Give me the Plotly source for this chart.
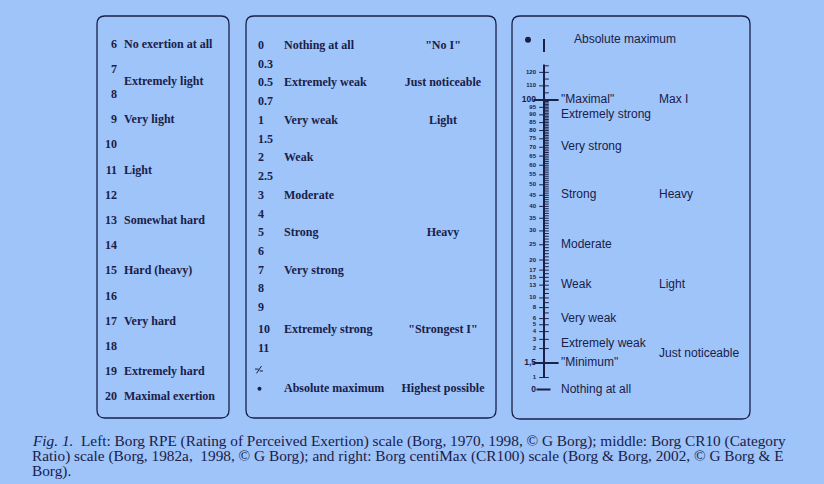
import numpy as np
import plotly.graph_objects as go

W, H = 824, 484
BG = "#9ec4fa"
INK = "#1a2048"
SERIF = "Liberation Serif"
SANS = "Liberation Sans"

# ---------------- data ----------------
# Borg RPE scale
rpe_values = list(range(6, 21))
rpe_label_values = [6, 7.5, 9, 11, 13, 15, 17, 19, 20]
rpe_label_texts = ["No exertion at all", "Extremely light", "Very light", "Light",
                   "Somewhat hard", "Hard (heavy)", "Very hard", "Extremely hard",
                   "Maximal exertion"]

# Borg CR10 scale
cr10_numbers = ["0", "0.3", "0.5", "0.7", "1", "1.5", "2", "2.5", "3", "4",
                "5", "6", "7", "8", "9", "10", "11"]
cr10_verbal_keys = ["0", "0.5", "1", "2", "3", "5", "7", "10", "max"]
cr10_verbal_texts = ["Nothing at all", "Extremely weak", "Very weak", "Weak", "Moderate",
                     "Strong", "Very strong", "Extremely strong", "Absolute maximum"]
cr10_anchor_keys = ["0", "0.5", "1", "5", "10", "max"]
cr10_anchor_texts = ['"No I"', "Just noticeable", "Light", "Heavy", '"Strongest I"',
                     "Highest possible"]

# Borg centiMax (CR100) scale
cr100_tick_values = [0, 1, 1.5, 2, 3, 4, 5, 6, 8, 10, 13, 15, 17, 20, 25, 30, 35, 40, 45,
                     50, 55, 60, 65, 70, 75, 80, 85, 90, 95, 100, 110, 120]
cr100_tick_labels = ["0", "1", "1,5", "2", "3", "4", "5", "6", "8", "10", "13", "15", "17",
                     "20", "25", "30", "35", "40", "45", "50", "55", "60", "65", "70", "75",
                     "80", "85", "90", "95", "100", "110", "120"]
cr100_major_values = [1.5, 100]
cr100_minor_values = list(range(1, 101)) + [105, 110, 115, 120, 125]
cr100_top = 125
cr100_verbal_values = [100, 90, 70, 45, 25, 13, 6, 2.5, 1.5, 0]
cr100_verbal_texts = ['"Maximal"', "Extremely strong", "Very strong", "Strong", "Moderate",
                      "Weak", "Very weak", "Extremely weak", '"Minimum"', "Nothing at all"]
cr100_anchor_values = [100, 45, 13, 1.8]
cr100_anchor_texts = ["Max I", "Heavy", "Light", "Just noticeable"]

caption_lines = [
    "<i>Fig. 1.</i>  Left: Borg RPE (Rating of Perceived Exertion) scale (Borg, 1970, 1998, \u00a9 G Borg); middle: Borg CR10 (Category",
    "Ratio) scale (Borg, 1982a,  1998, \u00a9 G Borg); and right: Borg centiMax (CR100) scale (Borg &amp; Borg, 2002, \u00a9 G Borg &amp; E",
    "Borg).",
]


# ---------------- scales ----------------
def cr100_t(v):
    v = np.asarray(v, dtype=float)
    return np.where(v >= 2, np.sqrt(np.maximum(v, 0)),
                    np.where(v >= 1, v - (2 - np.sqrt(2)), v * (np.sqrt(2) - 1)))


cr10_rows = cr10_numbers + ["break", "max"]


def cr10_row(key):
    i = cr10_rows.index(key)
    return i + (0.18 if i >= 15 else 0) + (0.12 if i >= 17 else 0)


def rng_down(p0, v0, px_per_unit):
    a = v0 - p0 / px_per_unit
    return [a + H / px_per_unit, a]


def rng_up(p0, v0, px_per_unit):
    top = v0 + p0 / px_per_unit
    return [top - H / px_per_unit, top]


fig = go.Figure()


def text_trace(x, y, texts, yaxis, pos, family, size, weight="normal"):
    fig.add_trace(go.Scatter(
        x=[x] * len(texts), y=y, text=texts, mode="text", textposition=pos,
        textfont=dict(family=family, size=size, color=INK, weight=weight),
        yaxis=yaxis, hoverinfo="skip", showlegend=False, cliponaxis=False))


# ---- RPE panel (yaxis y) ----
text_trace(117, rpe_values, [str(v) for v in rpe_values], "y", "middle left", SERIF, 12, "bold")
text_trace(124, rpe_label_values, rpe_label_texts, "y", "middle right", SERIF, 12, "bold")

# ---- CR10 panel (yaxis y2) ----
text_trace(258, [cr10_row(k) for k in cr10_numbers], cr10_numbers, "y2", "middle right",
           SERIF, 12, "bold")
text_trace(284, [cr10_row(k) for k in cr10_verbal_keys], cr10_verbal_texts, "y2",
           "middle right", SERIF, 12, "bold")
text_trace(443, [cr10_row(k) for k in cr10_anchor_keys], cr10_anchor_texts, "y2",
           "middle center", SERIF, 12, "bold")
fig.add_trace(go.Scatter(x=[259.5], y=[cr10_row("max")], mode="markers",
                         marker=dict(size=4, color=INK), yaxis="y2",
                         hoverinfo="skip", showlegend=False))
# broken-scale symbol
rb = cr10_row("break")
fig.add_trace(go.Scatter(x=[255, 258.5, None, 256.5, 261.5, None, 259.5, 263],
                         y=[rb - 0.05, rb - 0.05, None, rb + 0.18, rb - 0.22, None,
                            rb + 0.05, rb + 0.05],
                         mode="lines", line=dict(color=INK, width=1), yaxis="y2",
                         hoverinfo="skip", showlegend=False))

# ---- CR100 panel (yaxis y3) ----
AX = 544
abs_t = float(cr100_t(cr100_top)) + 0.9
fig.add_trace(go.Scatter(x=[AX, AX], y=cr100_t([1, cr100_top + 1]), mode="lines",
                         line=dict(color=INK, width=2), yaxis="y3",
                         hoverinfo="skip", showlegend=False))
fig.add_trace(go.Scatter(x=[AX, AX], y=[abs_t - 0.42, abs_t + 0.03], mode="lines",
                         line=dict(color=INK, width=2), yaxis="y3",
                         hoverinfo="skip", showlegend=False))
fig.add_trace(go.Scatter(x=[528], y=[abs_t], mode="markers",
                         marker=dict(size=6, color=INK), yaxis="y3",
                         hoverinfo="skip", showlegend=False))
fig.add_trace(go.Scatter(x=[AX + 2] * len(cr100_minor_values), y=cr100_t(cr100_minor_values),
                         mode="markers",
                         marker=dict(symbol="line-ew", size=4, line=dict(width=1, color=INK)),
                         yaxis="y3", hoverinfo="skip", showlegend=False))
lab_vals = [v for v in cr100_tick_values if v >= 1]
fig.add_trace(go.Scatter(x=[AX - 2] * len(lab_vals), y=cr100_t(lab_vals), mode="markers",
                         marker=dict(symbol="line-ew", size=4, line=dict(width=1, color=INK)),
                         yaxis="y3", hoverinfo="skip", showlegend=False))
fig.add_trace(go.Scatter(x=[AX + 2] * len(cr100_major_values), y=cr100_t(cr100_major_values),
                         mode="markers",
                         marker=dict(symbol="line-ew", size=18, line=dict(width=2, color=INK)),
                         yaxis="y3", hoverinfo="skip", showlegend=False))
fig.add_trace(go.Scatter(x=[AX - 0.5], y=cr100_t([0]), mode="markers",
                         marker=dict(symbol="line-ew", size=10, line=dict(width=2, color=INK)),
                         yaxis="y3", hoverinfo="skip", showlegend=False))
small = [(v, l) for v, l in zip(cr100_tick_values, cr100_tick_labels)
         if v not in cr100_major_values and v != 0]
big = [(v, l) for v, l in zip(cr100_tick_values, cr100_tick_labels)
       if v in cr100_major_values or v == 0]
text_trace(536, cr100_t([v for v, _ in small]), [l for _, l in small], "y3", "middle left",
           SANS, 6, "bold")
text_trace(536, cr100_t([v for v, _ in big]), [l for _, l in big], "y3", "middle left",
           SANS, 8.5, "bold")
text_trace(561, cr100_t(cr100_verbal_values), cr100_verbal_texts, "y3", "middle right",
           SANS, 12)
text_trace(574, [abs_t], ["Absolute maximum"], "y3", "middle right", SANS, 12)
text_trace(659, cr100_t(cr100_anchor_values), cr100_anchor_texts, "y3", "middle right",
           SANS, 12)


# ---------------- frames & caption ----------------
def rounded(x0, y0, x1, y1, r=8):
    return (f"M {x0+r} {y0} L {x1-r} {y0} Q {x1} {y0} {x1} {y0+r} "
            f"L {x1} {y1-r} Q {x1} {y1} {x1-r} {y1} L {x0+r} {y1} "
            f"Q {x0} {y1} {x0} {y1-r} L {x0} {y0+r} Q {x0} {y0} {x0+r} {y0} Z")


shapes = []
for (x0, y0, x1, y1) in [(97, 16, 229, 418), (246, 16, 496, 418), (512, 16, 750, 419)]:
    shapes.append(dict(type="path", path=rounded(x0, y0, x1, y1), xref="x", yref="y4",
                       line=dict(color=INK, width=1.3), fillcolor="rgba(0,0,0,0)",
                       layer="below"))

annotations = []
for i, line in enumerate(caption_lines):
    annotations.append(dict(text=line, x=30, y=441 + 15 * i, xref="x", yref="y4",
                            xanchor="left", yanchor="middle", showarrow=False,
                            font=dict(family=SERIF, size=15.3, color=INK)))

hidden = dict(visible=False, fixedrange=True)
fig.update_layout(
    width=W, height=H, margin=dict(l=0, r=0, t=0, b=0),
    paper_bgcolor=BG, plot_bgcolor=BG, showlegend=False,
    xaxis=dict(range=[0, W], domain=[0, 1], **hidden),
    yaxis=dict(range=rng_down(44.5, 6, 25.2), domain=[0, 1], **hidden),
    yaxis2=dict(range=rng_down(46, 0, 18.73), overlaying="y", **hidden),
    yaxis3=dict(range=rng_up(389.5, 0, 28.95), overlaying="y", **hidden),
    yaxis4=dict(range=[H, 0], overlaying="y", **hidden),
    shapes=shapes, annotations=annotations,
)

fig.write_html("out.html", config={"displayModeBar": False},
               post_script="document.body.style.margin='0';document.body.style.background='" + BG + "';")
